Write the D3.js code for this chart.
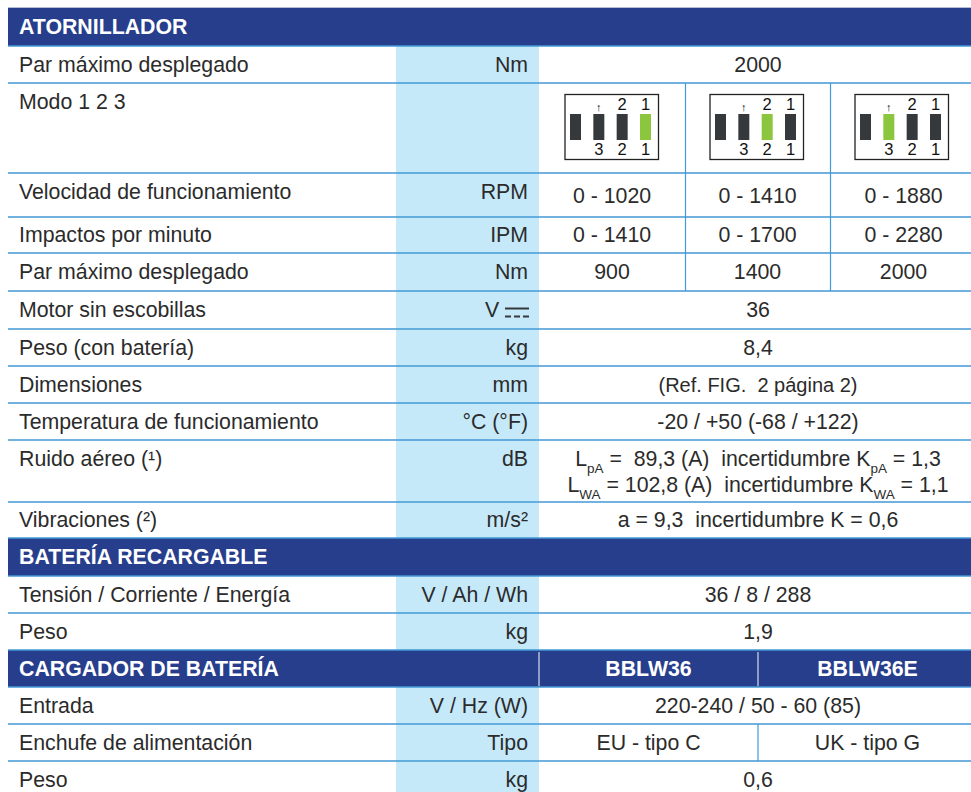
<!DOCTYPE html>
<html>
<head>
<meta charset="utf-8">
<script src="https://cdn.jsdelivr.net/npm/d3@7"></script>
<style>
  html, body { margin: 0; padding: 0; background: #fff; }
  svg { display: block; }
  text { font-family: "Liberation Sans", Arial, sans-serif; font-size: 21.3px; fill: #2b2b2b; white-space: pre; }
  .head { font-weight: bold; fill: #fff; }
</style>
</head>
<body>
<svg></svg>
<script>
const width = 971;
const height = 792;

// table content, top to bottom
const rowLabels = ['ATORNILLADOR', 'Par máximo desplegado', 'Modo 1 2 3', 'Velocidad de funcionamiento',
  'Impactos por minuto', 'Par máximo desplegado', 'Motor sin escobillas', 'Peso (con batería)',
  'Dimensiones', 'Temperatura de funcionamiento', 'Ruido aéreo (¹)', 'Vibraciones (²)',
  'BATERÍA RECARGABLE', 'Tensión / Corriente / Energía', 'Peso', 'CARGADOR DE BATERÍA',
  'Entrada', 'Enchufe de alimentación', 'Peso'];
const rowUnits = ['', 'Nm', '', 'RPM', 'IPM', 'Nm', 'V', 'kg', 'mm', '°C (°F)', 'dB', 'm/s²',
  '', 'V / Ah / Wh', 'kg', '', 'V / Hz (W)', 'Tipo', 'kg'];
const rowValues = [[], ['2000'], [], ['0 - 1020', '0 - 1410', '0 - 1880'], ['0 - 1410', '0 - 1700', '0 - 2280'],
  ['900', '1400', '2000'], ['36'], ['8,4'], ['(Ref. FIG.  2 página 2)'], ['-20 / +50 (-68 / +122)'], [],
  ['a = 9,3  incertidumbre K = 0,6'], [], ['36 / 8 / 288'], ['1,9'], ['BBLW36', 'BBLW36E'],
  ['220-240 / 50 - 60 (85)'], ['EU - tipo C', 'UK - tipo G'], ['0,6']];
const headerRows = [0, 12, 15];
const noiseLine1 = [['L'], ['pA', 1], [' =  89,3 (A)  incertidumbre K'], ['pA', 1], [' = 1,3']];
const noiseLine2 = [['L'], ['WA', 1], [' = 102,8 (A)  incertidumbre K'], ['WA', 1], [' = 1,1']];
const modeTop = ['↑', '2', '1'];
const modeBottom = ['3', '2', '1'];
const modeActive = [1, 2, 3]; // lit switch in each of the three boxes, 1 is the rightmost

// layout
const rowEdges = [8, 46, 83, 173, 217, 253, 291, 329, 366, 403, 440, 502, 538, 576, 613, 650, 687, 724, 761, 798];
const colLeft = 8, colUnit = 396, colValue = 539, colMid = 758, colA = 685, colB = 830, tableRight = 977;
const navy = '#263e8c', pale = '#c6e9fa', rule = '#4399d6', dark = '#36393c', green = '#8cc63f';

const svg = d3.select('svg').attr('width', width).attr('height', height);

const rowIdx = rowLabels.map((d, i) => i);
const yTop = d3.scaleOrdinal().domain(rowIdx).range(rowEdges.slice(0, -1));
const yBottom = d3.scaleOrdinal().domain(rowIdx).range(rowEdges.slice(1));
const yMid = i => (yTop(i) + yBottom(i)) / 2;

// columns for rows with one, two or three values
const colsByCount = {
  1: [colValue, tableRight],
  2: [colValue, colMid, tableRight],
  3: [colValue, colA, colB, tableRight]
};
const valueCenter = (n, i) => (colsByCount[n][i] + colsByCount[n][i + 1]) / 2;

// unit column band
svg.append('rect').attr('x', colUnit).attr('y', yBottom(0))
  .attr('width', colValue - colUnit).attr('height', height - yBottom(0)).attr('fill', pale);

// header bands
svg.selectAll('rect.band').data(headerRows).enter().append('rect')
  .attr('class', 'band')
  .attr('x', colLeft).attr('y', d => yTop(d))
  .attr('width', width - colLeft).attr('height', d => yBottom(d) - yTop(d))
  .attr('fill', navy);

svg.append('line').attr('x1', colLeft).attr('x2', width).attr('y1', 7.5).attr('y2', 7.5)
  .attr('stroke', '#b4bcdc');

// row rules
svg.selectAll('line.rule').data(rowEdges.slice(1, -1)).enter().append('line')
  .attr('class', 'rule')
  .attr('x1', colLeft).attr('x2', width)
  .attr('y1', d => d).attr('y2', d => d)
  .attr('stroke', rule).attr('stroke-width', 1.5);

// vertical rules
[colA, colB].forEach(x => {
  svg.append('line').attr('x1', x + .5).attr('x2', x + .5)
    .attr('y1', yTop(2)).attr('y2', yBottom(5))
    .attr('stroke', rule).attr('stroke-width', 1.2);
});
svg.append('line').attr('x1', colMid).attr('x2', colMid)
  .attr('y1', yTop(17)).attr('y2', yBottom(17))
  .attr('stroke', rule).attr('stroke-width', 1.2);
[colValue, colMid].forEach(x => {
  svg.append('line').attr('x1', x).attr('x2', x)
    .attr('y1', yTop(15) + 2).attr('y2', yBottom(15) - 1)
    .attr('stroke', '#d5dcee').attr('stroke-width', 1.2);
});

// labels, top aligned in the taller rows
const tallRows = [2, 3, 10];
const textY = i => (tallRows.includes(i) ? yTop(i) + 26 : yMid(i) + 7);

svg.selectAll('text.label').data(rowIdx).enter().append('text')
  .attr('class', i => headerRows.includes(i) ? 'label head' : 'label')
  .attr('x', 19)
  .attr('y', textY)
  .text(i => rowLabels[i]);

svg.selectAll('text.unit').data(rowIdx.filter(i => rowUnits[i])).enter().append('text')
  .attr('class', 'unit')
  .attr('x', i => i === 6 ? 485 : 528)
  .attr('y', textY)
  .attr('text-anchor', i => i === 6 ? 'start' : 'end')
  .text(i => rowUnits[i]);

// DC symbol next to the V
svg.append('line').attr('x1', 505).attr('x2', 529).attr('y1', 308.5).attr('y2', 308.5)
  .attr('stroke', dark).attr('stroke-width', 2);
svg.append('line').attr('x1', 505).attr('x2', 529).attr('y1', 316.5).attr('y2', 316.5)
  .attr('stroke', dark).attr('stroke-width', 2).attr('stroke-dasharray', '6 3');

// value cells
rowValues.forEach((vals, i) => {
  svg.selectAll(null).data(vals).enter().append('text')
    .attr('class', headerRows.includes(i) ? 'head' : null)
    .attr('x', (d, k) => valueCenter(vals.length, k))
    .attr('y', textY(i) + (i === 3 ? 4 : 0))
    .attr('text-anchor', 'middle')
    .style('font-size', i === 8 ? '20px' : null)
    .text(d => d);
});

// noise row with subscripts
const noise = svg.selectAll('text.noise').data([noiseLine1, noiseLine2]).enter().append('text')
  .attr('class', 'noise')
  .attr('x', valueCenter(1, 0))
  .attr('y', (d, i) => yTop(10) + 25.5 + i * 26)
  .attr('text-anchor', 'middle');
noise.selectAll('tspan').data(d => d).enter().append('tspan')
  .attr('dy', (d, i) => d[1] ? 7 : (i ? -7 : 0))
  .style('font-size', d => d[1] ? '13.5px' : null)
  .text(d => d[0]);

// mode switch boxes
const boxLeft = [565, 710, 855];
const slotX = d3.scalePoint().domain([3, 2, 1, 0]).range([5, 75]);
const boxes = svg.selectAll('g.box').data(modeActive).enter().append('g')
  .attr('class', 'box')
  .attr('transform', (d, i) => `translate(${boxLeft[i]},94.5)`);
boxes.append('rect').attr('width', 93.5).attr('height', 65)
  .attr('fill', '#fff').attr('stroke', '#222').attr('stroke-width', 1.3);
boxes.selectAll('rect.sw').data(active => [3, 2, 1, 0].map(s => ({ s, on: s === active - 1 }))).enter().append('rect')
  .attr('class', 'sw')
  .attr('x', d => slotX(d.s)).attr('y', 19.5)
  .attr('width', 11).attr('height', 26)
  .attr('fill', d => d.on ? green : dark);
boxes.selectAll('text.top').data(modeTop).enter().append('text')
  .attr('class', 'top')
  .attr('x', (d, i) => 5.5 + slotX(2 - i))
  .attr('y', (d, i) => i ? 15.5 : 16)
  .attr('text-anchor', 'middle')
  .style('font-size', (d, i) => i ? '16.5px' : '11px')
  .style('fill', '#111')
  .text(d => d);
boxes.selectAll('text.bot').data(modeBottom).enter().append('text')
  .attr('class', 'bot')
  .attr('x', (d, i) => 5.5 + slotX(2 - i))
  .attr('y', 60)
  .attr('text-anchor', 'middle')
  .style('font-size', '16.5px')
  .style('fill', '#111')
  .text(d => d);
</script>
</body>
</html>
